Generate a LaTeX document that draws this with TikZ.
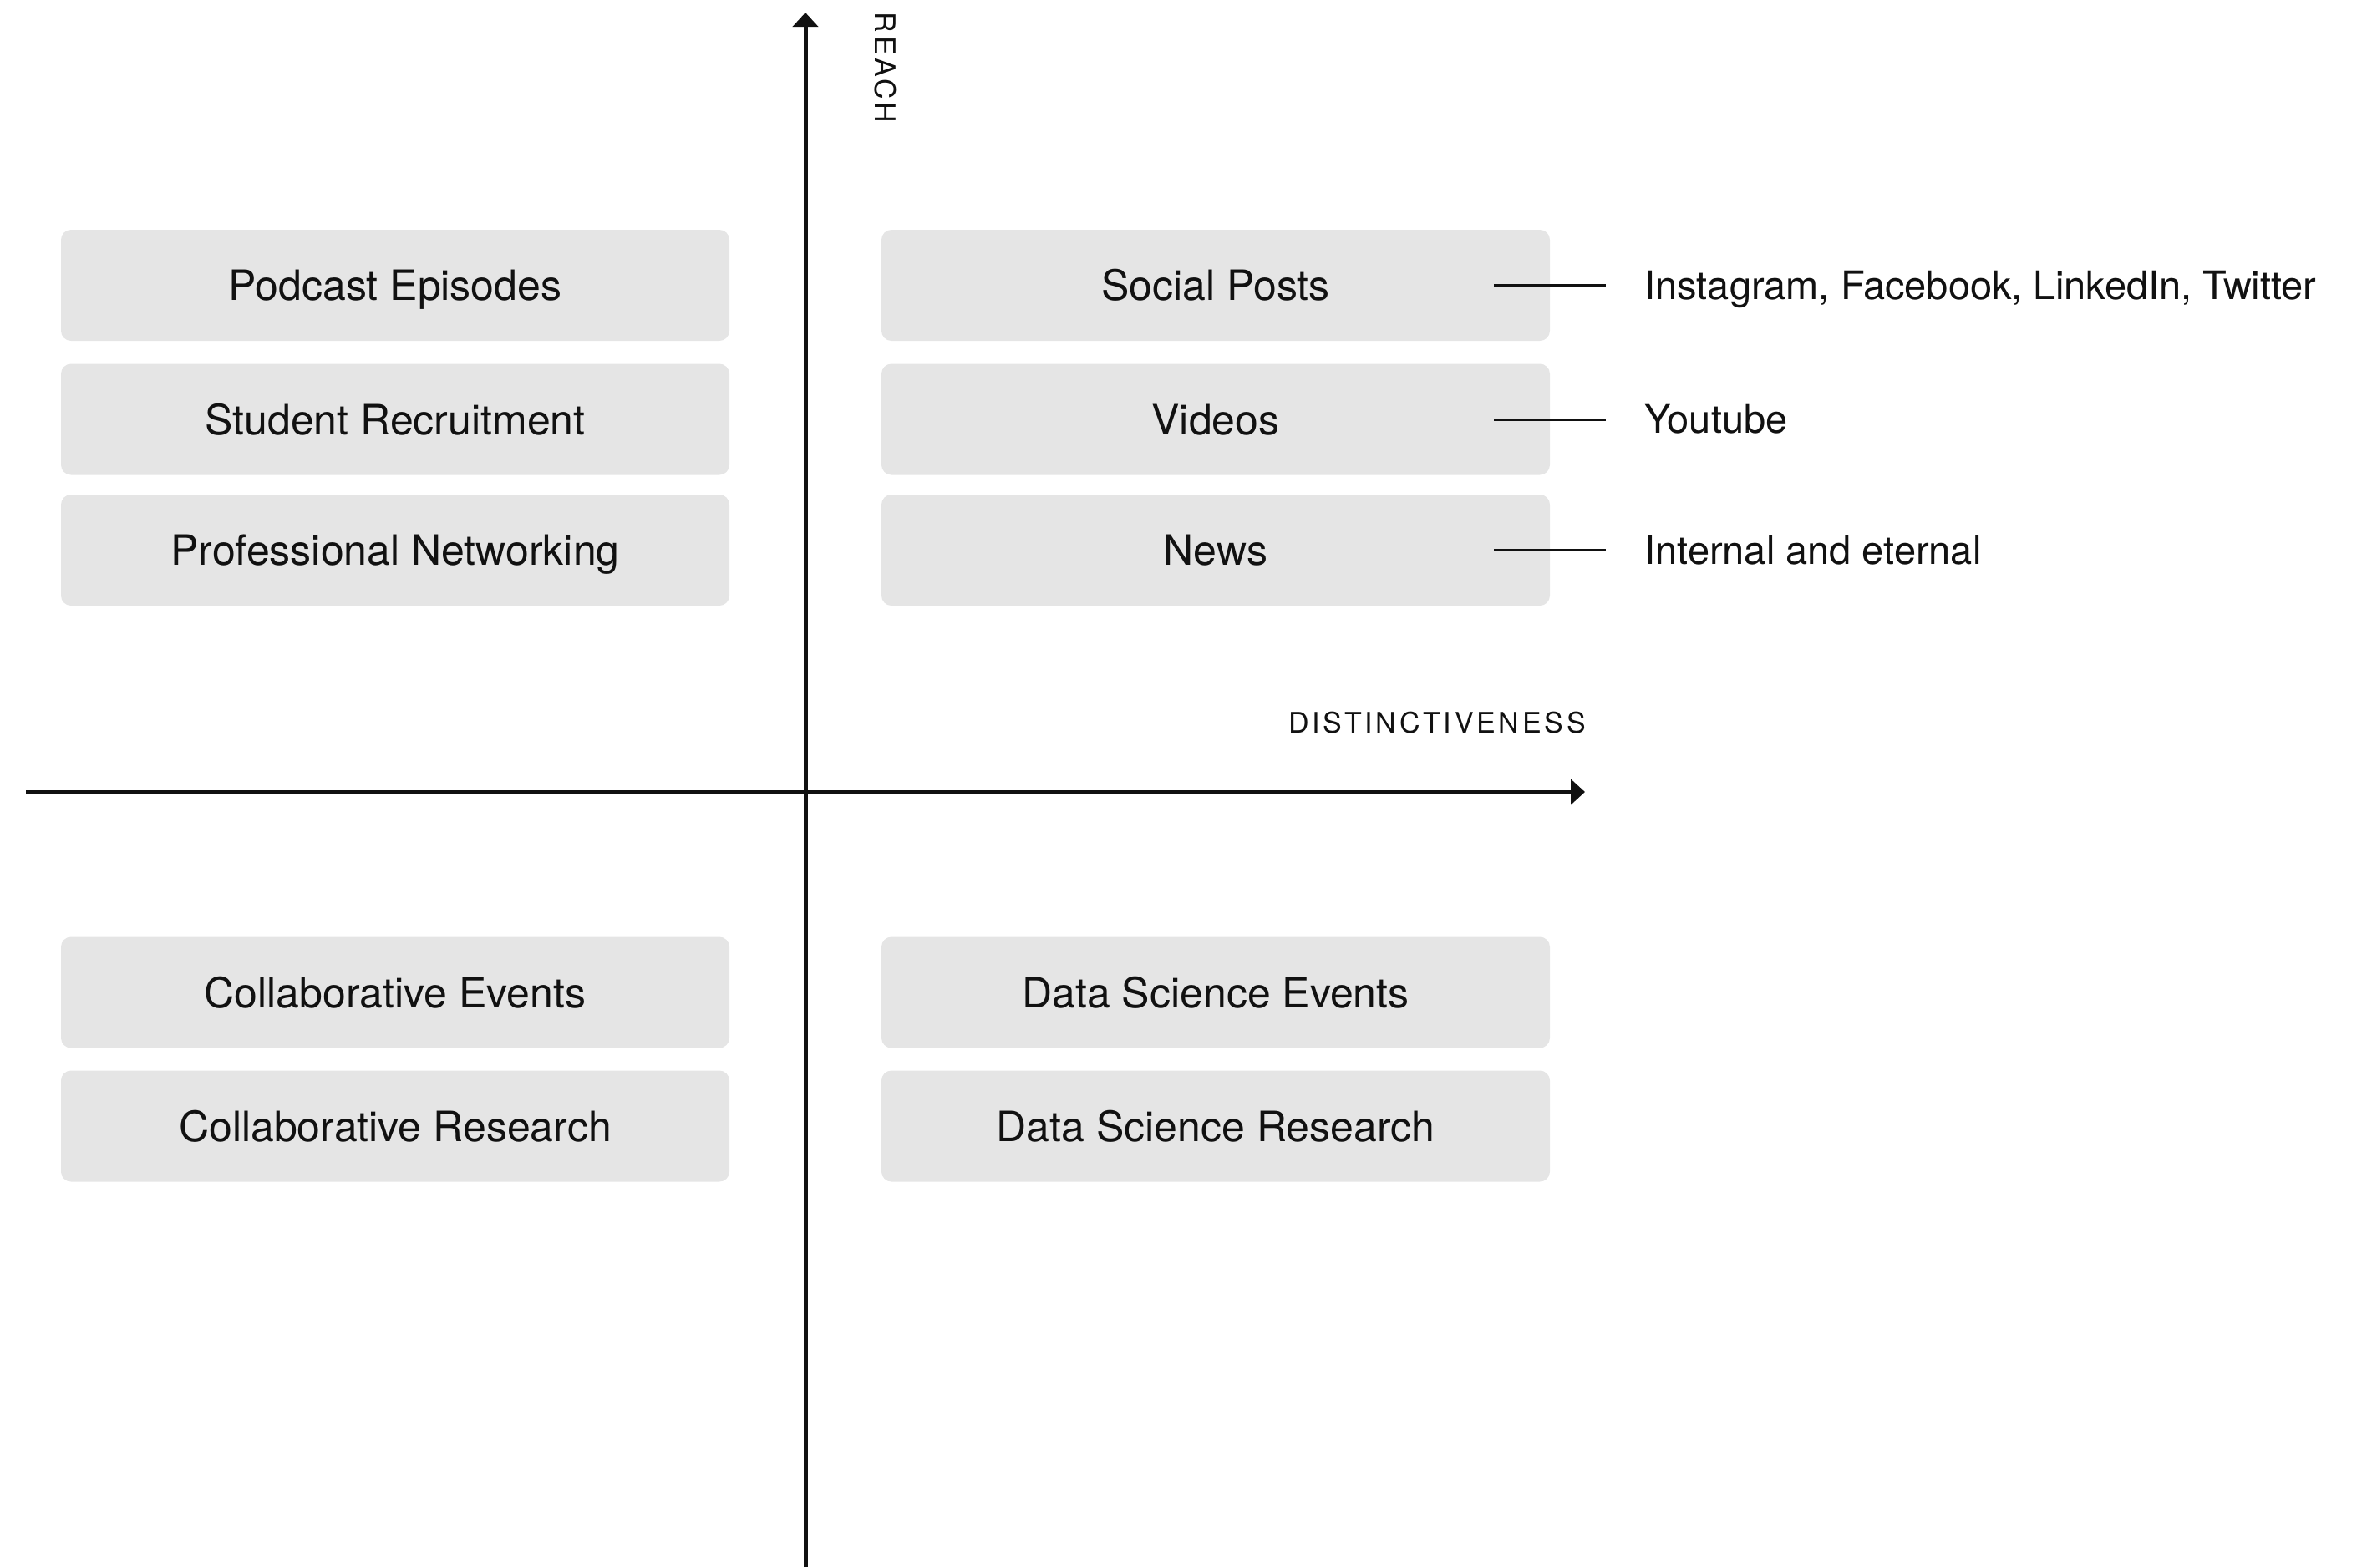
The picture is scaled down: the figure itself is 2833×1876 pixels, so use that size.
\documentclass[tikz,border=0pt]{standalone}
\usepackage{fontspec}
\setmainfont{TeX Gyre Heros}
\usetikzlibrary{arrows.meta}
\definecolor{boxgray}{HTML}{E5E5E5}
\definecolor{ink}{HTML}{111111}

\begin{document}
\begin{tikzpicture}[x=0.5pt,y=-0.5pt]
    \def\lx{473}
    \def\rx{1455}

    \tikzstyle{item}=[fill=boxgray,rounded corners=6pt,minimum width=400pt,minimum height=66.5pt,inner sep=0pt,text height=18pt,text depth=0pt,text=ink,font=\fontsize{25}{29}\selectfont]
    \tikzstyle{note}=[anchor=west,inner sep=0pt,text height=16.9pt,text depth=0pt,text=ink,font=\fontsize{23.5}{28}\selectfont]
    \tikzstyle{axislabel}=[inner sep=0pt,text=ink,font=\fontsize{17}{20}\selectfont\addfontfeature{LetterSpace=11}]

    \useasboundingbox (0,0) rectangle (2833,1876);

    \node[item]  (podcast) at (\lx,341.5) {Podcast Episodes};
    \node[item]  (student) at (\lx,502) {Student Recruitment};
    \node[item]  (networking) at (\lx,658.5) {Professional Networking};
    \node[item]  (collabevents) at (\lx,1188) {Collaborative Events};
    \node[item]  (collabresearch) at (\lx,1348) {Collaborative Research};

    \node[item]  (social) at (\rx,341.5) {Social Posts};
    \node[item]  (videos) at (\rx,502) {Videos};
    \node[item]  (news) at (\rx,658.5) {News};
    \node[item]  (dsevents) at (\rx,1188) {Data Science Events};
    \node[item]  (dsresearch) at (\rx,1348) {Data Science Research};

    \node[note]  (platforms) at (1968,341.5) {Instagram, Facebook, LinkedIn, Twitter};
    \node[note]  (youtube) at (1968,502) {Youtube};
    \node[note]  (internal) at (1968,658.5) {Internal and eternal};

    \node[axislabel]  (distinct) at (1720,865) {DISTINCTIVENESS};
    \node[axislabel,rotate=-90]  (reach) at (1060,81) {REACH};

    \coordinate (xfrom) at (31,948);
    \coordinate (xto) at (1897,948);
    \coordinate (yfrom) at (964,1876);
    \coordinate (yto) at (964,15);

    \tikzstyle{link} = [draw=ink, line width=1.5pt]

          \draw [link] ([xshift=-33.5pt]social.east) -- ([xshift=-23pt]platforms.west);
          \draw [link] ([xshift=-33.5pt]videos.east) -- ([xshift=-23pt]youtube.west);
          \draw [link] ([xshift=-33.5pt]news.east) -- ([xshift=-23pt]internal.west);

    \pgfsetarrowsend{Triangle[width=15pt,length=8.5pt]}
    \tikzstyle{axis} = [draw=ink, line width=2.5pt]

          \draw [axis] (xfrom) -- (xto);
          \draw [axis] (yfrom) -- (yto);

  \end{tikzpicture}
\end{document}
